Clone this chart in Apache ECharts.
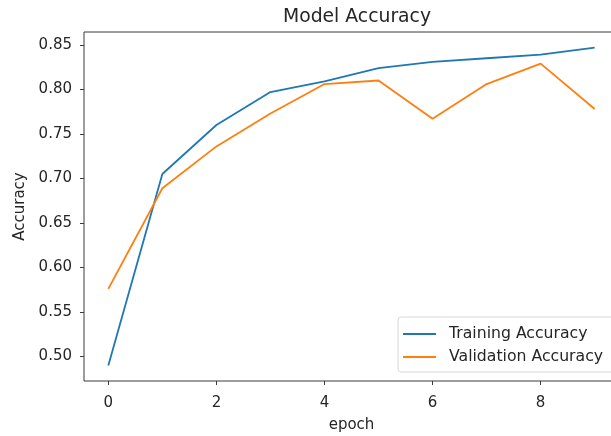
<!DOCTYPE html>
<html>
<head>
<meta charset="utf-8">
<script src="https://cdn.jsdelivr.net/npm/echarts@6/dist/echarts.min.js"></script>
<style>html,body{margin:0;padding:0;background:#fff;}#c{width:611px;height:436px;}</style>
</head>
<body>
<div id="c"></div>
<script>
const epochs = [0, 1, 2, 3, 4, 5, 6, 7, 8, 9];
const trainingAccuracy = [0.490, 0.705, 0.760, 0.797, 0.809, 0.824, 0.831, 0.835, 0.839, 0.847];
const validationAccuracy = [0.576, 0.689, 0.736, 0.773, 0.806, 0.810, 0.767, 0.806, 0.829, 0.778];
const xTicks = [0, 2, 4, 6, 8];
const yTicks = [0.50, 0.55, 0.60, 0.65, 0.70, 0.75, 0.80, 0.85];

const FONT = 'DejaVu Sans';
const chart = echarts.init(document.getElementById('c'), null, {renderer: 'canvas'});
chart.setOption({
  animation: false,
  backgroundColor: '#fff',
  title: {
    text: 'Model Accuracy', left: 352, top: 3, textAlign: 'center',
    textStyle: {fontFamily: FONT, fontSize: 18.8, fontWeight: 'normal', color: '#262626'}
  },
  grid: {left: 84, right: -8, top: 32, bottom: 55, show: true, borderColor: '#3a3a3a', borderWidth: 1,
         backgroundColor: 'transparent', containLabel: false, outerBoundsMode: 'none'},
  legend: {
    orient: 'vertical', left: 398, top: 317,
    backgroundColor: 'rgba(255,255,255,0.85)', borderColor: '#d8d8d8', borderWidth: 1, borderRadius: 3,
    padding: [8, 20, 6, 5], itemGap: 5, itemWidth: 33, itemHeight: 2, icon: 'rect',
    textStyle: {fontFamily: FONT, fontSize: 15.7, lineHeight: 18, color: '#262626', padding: [0, 0, 0, 8]},
    data: ['Training Accuracy', 'Validation Accuracy']
  },
  xAxis: {
    type: 'value', min: -0.45, max: 9.45,
    name: 'epoch', nameLocation: 'middle', nameGap: 37,
    nameTextStyle: {fontFamily: FONT, fontSize: 15, color: '#262626'},
    axisLine: {show: false, onZero: false},
    axisTick: {show: true, length: 4, lineStyle: {color: '#3a3a3a'}, customValues: xTicks},
    axisLabel: {fontFamily: FONT, fontSize: 15, color: '#262626', margin: 15, customValues: xTicks, formatter: v => String(v)},
    splitLine: {show: false}
  },
  yAxis: {
    type: 'value', min: 0.4725, max: 0.8645,
    name: 'Accuracy', nameLocation: 'middle', nameGap: 52, nameRotate: 90,
    nameTextStyle: {fontFamily: FONT, fontSize: 15, color: '#262626'},
    axisLine: {show: false, onZero: false},
    axisTick: {show: true, length: 4, lineStyle: {color: '#3a3a3a'}, customValues: yTicks},
    axisLabel: {fontFamily: FONT, fontSize: 15, color: '#262626', margin: 12, customValues: yTicks, formatter: v => v.toFixed(2)},
    splitLine: {show: false}
  },
  series: [
    {name: 'Training Accuracy', type: 'line', showSymbol: false, symbol: 'none',
     data: epochs.map((e, i) => [e, trainingAccuracy[i]]),
     lineStyle: {color: '#1f77b4', width: 1.8}, itemStyle: {color: '#1f77b4'}},
    {name: 'Validation Accuracy', type: 'line', showSymbol: false, symbol: 'none',
     data: epochs.map((e, i) => [e, validationAccuracy[i]]),
     lineStyle: {color: '#ff7f0e', width: 1.8}, itemStyle: {color: '#ff7f0e'}}
  ]
});
</script>
</body>
</html>
